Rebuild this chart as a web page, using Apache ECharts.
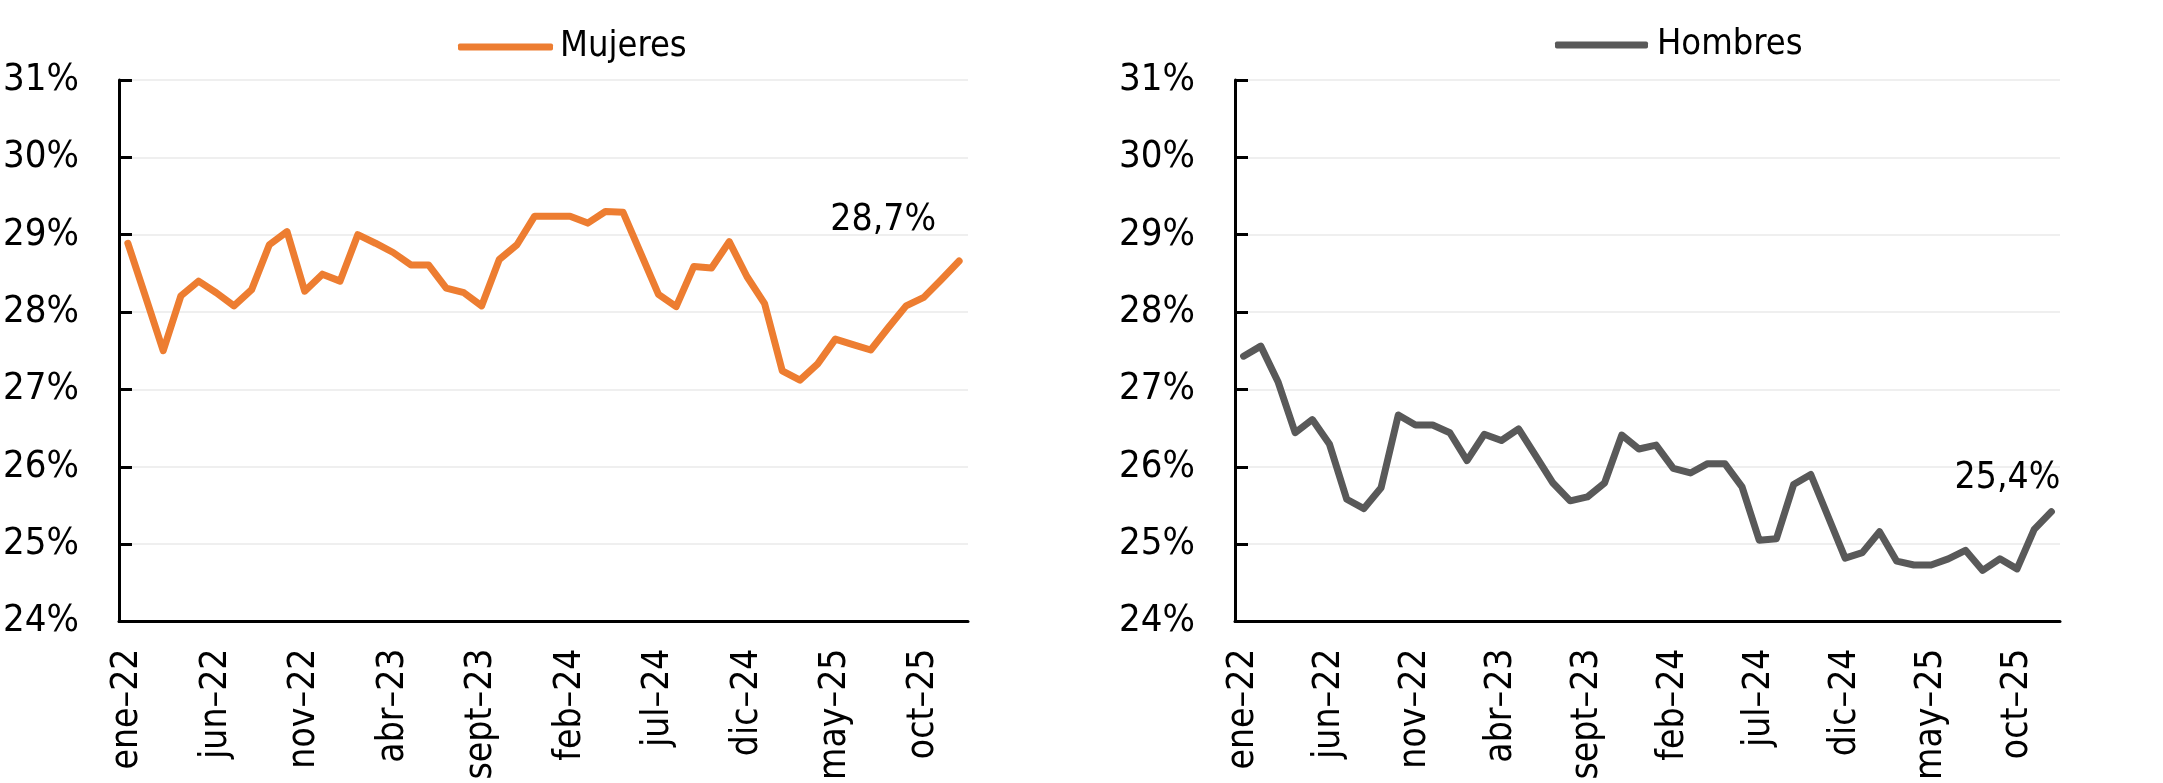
<!DOCTYPE html>
<html>
<head>
<meta charset="utf-8">
<script src="https://cdn.jsdelivr.net/npm/echarts@6/dist/echarts.min.js"></script>
<style>
html,body{margin:0;padding:0;background:#fff;}
#chart{width:2163px;height:783px;}
</style>
</head>
<body>
<div id="chart"></div>
<script>
var categories = [
 'ene–22','feb–22','mar–22','abr–22','may–22','jun–22','jul–22','ago–22','sept–22','oct–22','nov–22','dic–22',
 'ene–23','feb–23','mar–23','abr–23','may–23','jun–23','jul–23','ago–23','sept–23','oct–23','nov–23','dic–23',
 'ene–24','feb–24','mar–24','abr–24','may–24','jun–24','jul–24','ago–24','sept–24','oct–24','nov–24','dic–24',
 'ene–25','feb–25','mar–25','abr–25','may–25','jun–25','jul–25','ago–25','sept–25','oct–25','nov–25','dic–25'
];
var mujeres = [
 28.89, 28.20, 27.50, 28.21, 28.40, 28.25, 28.08, 28.29, 28.87, 29.04,
 28.27, 28.49, 28.40, 29.00, 28.89, 28.77, 28.61, 28.61, 28.31, 28.25,
 28.08, 28.68, 28.87, 29.24, 29.24, 29.24, 29.15, 29.30, 29.29, 28.76,
 28.23, 28.07, 28.59, 28.57, 28.91, 28.46, 28.11, 27.24, 27.12, 27.33,
 27.65, 27.58, 27.51, 27.80, 28.08, 28.19, 28.42, 28.66
];
var hombres = [
 27.43, 27.56, 27.10, 26.44, 26.61, 26.29, 25.58, 25.46, 25.73, 26.67,
 26.54, 26.54, 26.44, 26.08, 26.42, 26.34, 26.49, 26.14, 25.79, 25.56,
 25.61, 25.79, 26.41, 26.23, 26.28, 25.98, 25.92, 26.04, 26.04, 25.74,
 25.05, 25.07, 25.77, 25.90, 25.36, 24.82, 24.89, 25.16, 24.78, 24.73,
 24.73, 24.81, 24.92, 24.66, 24.81, 24.68, 25.19, 25.42
];
var seriesNames = ['Mujeres', 'Hombres'];
var yMin = 24, yMax = 31, yStep = 1;

var FONT = '"Liberation Sans Narrow", "DejaVu Sans Condensed", sans-serif';
var colors = ['#ED7D31', '#595959'];

function fmt(v){ return v.toFixed(1).replace('.', ',') + '%'; }

function lastMark(arr, offset){
  var i = arr.length - 1;
  return {
    symbol: 'circle', symbolSize: 2,
    itemStyle: {color: 'rgba(0,0,0,0)'},
    data: [{coord: [categories[i], arr[i]], value: arr[i],
      label: {show: true, position: 'top', distance: 0, offset: offset,
        formatter: fmt(arr[i]), fontFamily: FONT, fontSize: 37, color: '#000'}}]
  };
}

function xAxis(idx){
  return {
    type: 'category', gridIndex: idx, data: categories, boundaryGap: true,
    axisLine: {show: true, lineStyle: {color: '#000', width: 3}},
    axisTick: {show: false},
    axisLabel: {interval: 4, rotate: 90, margin: 27, fontFamily: FONT, fontSize: 37, color: '#000'},
    splitLine: {show: false}
  };
}
function yAxis(idx){
  return {
    type: 'value', gridIndex: idx, min: yMin, max: yMax, interval: yStep,
    axisLine: {show: true, lineStyle: {color: '#000', width: 3}},
    axisTick: {show: true, inside: true, length: 13, lineStyle: {color: '#000', width: 3}},
    axisLabel: {formatter: '{value}%', margin: 40, fontFamily: FONT, fontSize: 38, color: '#000'},
    splitLine: {show: true, lineStyle: {color: '#EFEFEF', width: 2}}
  };
}

var chart = echarts.init(document.getElementById('chart'), null, {renderer: 'canvas'});
chart.setOption({
  animation: false,
  backgroundColor: '#fff',
  legend: [
    {data: [seriesNames[0]], left: 453, top: 24, itemWidth: 95, itemHeight: 7, itemGap: 5,
     icon: 'roundRect', textStyle: {fontFamily: FONT, fontSize: 36, color: '#000', padding: [0,0,0,2]}},
    {data: [seriesNames[1]], left: 1550, top: 22, itemWidth: 93, itemHeight: 7, itemGap: 5,
     icon: 'roundRect', textStyle: {fontFamily: FONT, fontSize: 36, color: '#000', padding: [0,0,0,4]}}
  ],
  grid: [
    {left: 117, right: 1195, top: 80, bottom: 159, containLabel: false},
    {left: 1235, right: 103, top: 80, bottom: 159, containLabel: false}
  ],
  xAxis: [xAxis(0), xAxis(1)],
  yAxis: [yAxis(0), yAxis(1)],
  series: [
    {name: seriesNames[0], type: 'line', xAxisIndex: 0, yAxisIndex: 0,
     data: mujeres, symbol: 'none', showSymbol: false,
     color: colors[0], lineStyle: {color: colors[0], width: 7, cap: 'round', join: 'round'},
     markPoint: lastMark(mujeres, [-76, -21])},
    {name: seriesNames[1], type: 'line', xAxisIndex: 1, yAxisIndex: 1,
     data: hombres, symbol: 'none', showSymbol: false,
     color: colors[1], lineStyle: {color: colors[1], width: 7, cap: 'round', join: 'round'},
     markPoint: lastMark(hombres, [-44, -14])}
  ]
});
</script>
</body>
</html>
